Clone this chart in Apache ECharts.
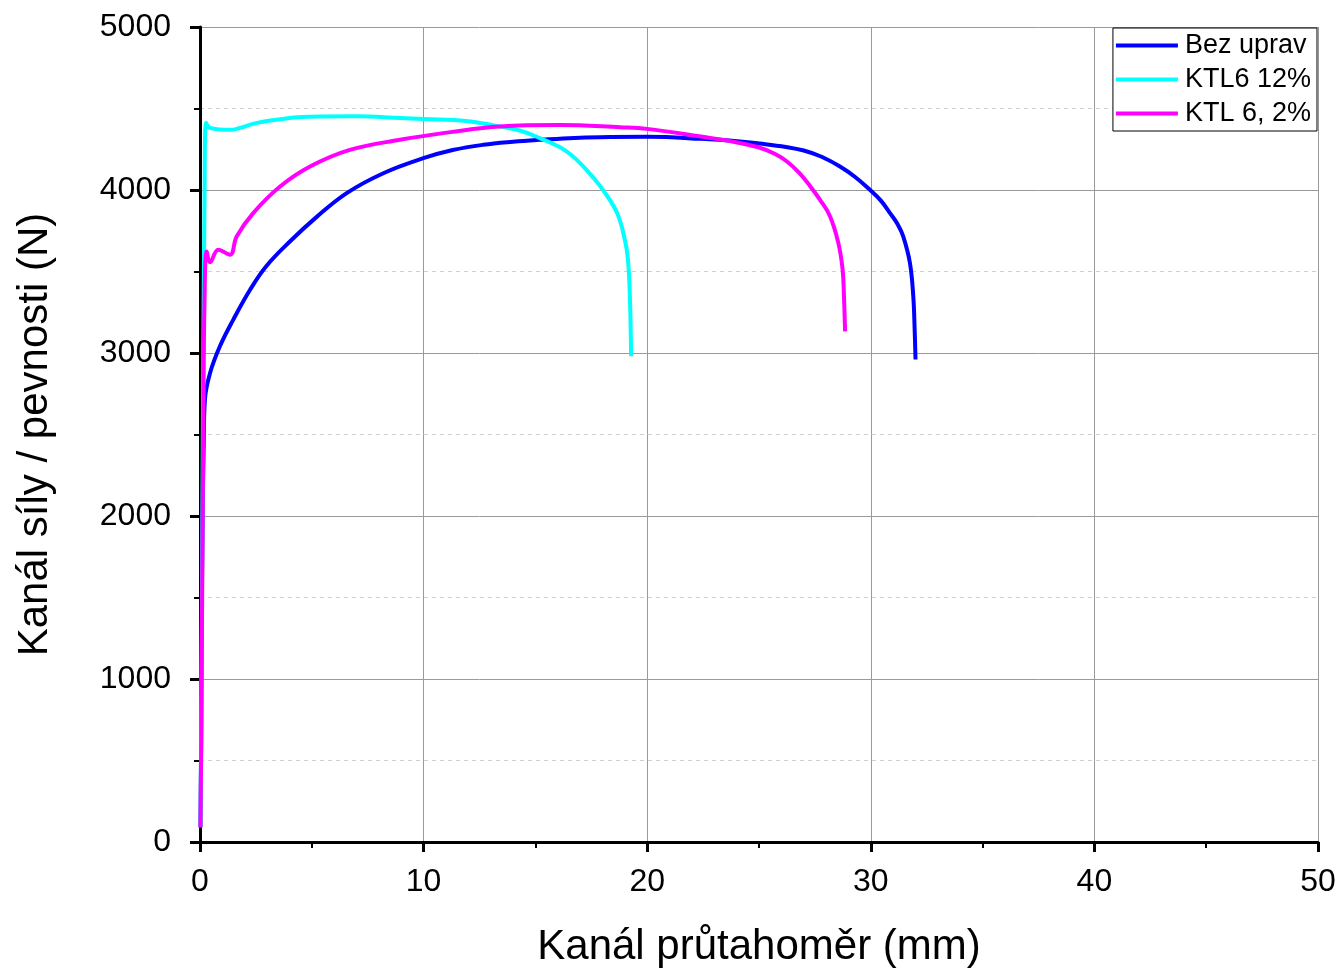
<!DOCTYPE html>
<html>
<head>
<meta charset="utf-8">
<script src="https://cdn.jsdelivr.net/npm/echarts@6/dist/echarts.min.js"></script>
<style>html,body{margin:0;padding:0;background:#fff}#c{width:1342px;height:973px}</style>
</head>
<body>
<div id="c"></div>
<script>
const seriesNames = ['Bez uprav', 'KTL6 12%', 'KTL 6, 2%'];
const seriesColors = ['#0000ff', '#00ffff', '#ff00ff'];

const bezX = [0.02,0.05,0.08,0.12,0.16,0.22,0.45,0.89,1.49,2.24,2.98,4.02,5.22,6.56,8.2,9.99,11.3,12.66,14.0,15.2,16.5,17.9,20.0,22.4,24.15,25.04,26.2,27.0,27.8,28.62,29.3,29.96,30.45,30.86,31.2,31.45,31.75,31.9,31.96,32.0];
const bezY = [90,600,1400,2000,2400,2714,2877,3041,3205,3388,3535,3684,3835,3981,4103,4195,4245,4277,4296,4308,4318,4324,4326,4314,4298,4285,4264,4242,4204,4144,4080,4001,3935,3858,3790,3715,3552,3347,3150,2960];

const ktl12X = [0.02,0.06,0.1,0.15,0.2,0.27,0.45,1.34,1.79,2.55,4.02,4.92,7.0,8.94,10.0,11.9,13.28,14.3,15.2,16.1,16.6,17.0,17.5,18.02,18.65,19.0,19.14,19.23,19.28];
const ktl12Y = [90,800,1800,3000,3900,4412,4381,4369,4381,4412,4442,4449,4452,4442,4436,4424,4393,4365,4318,4262,4215,4165,4090,4001,3860,3695,3572,3327,2980];

const ktl2X = [0.02,0.06,0.1,0.15,0.2,0.3,0.45,0.82,1.34,1.64,2.38,3.58,4.92,6.7,8.94,11.2,13.4,16.1,18.8,20.0,22.4,23.7,25.04,25.7,26.25,26.8,27.28,27.73,28.18,28.55,28.74,28.8,28.85];
const ktl2Y = [90,700,1600,2600,3300,3623,3556,3634,3603,3715,3858,4021,4144,4246,4308,4355,4390,4399,4385,4375,4328,4300,4259,4222,4175,4105,4025,3940,3838,3674,3511,3347,3133];

const xTicks = {min: 0, max: 50, interval: 10};
const yTicks = {min: 0, max: 5000, interval: 1000};

function zip(xs, ys) { return xs.map((x, i) => [x, ys[i]]); }
const allData = [zip(bezX, bezY), zip(ktl12X, ktl12Y), zip(ktl2X, ktl2Y)];

const font = 'Liberation Sans, Arial, sans-serif';
const chart = echarts.init(document.getElementById('c'), null, {renderer: 'canvas'});

function axisCommon() {
  return {
    axisLine: {show: true, onZero: false, lineStyle: {color: '#000', width: 3}},
    axisTick: {show: true, inside: false, length: 10, lineStyle: {color: '#000', width: 3}},
    minorTick: {show: true, splitNumber: 2, length: 6, lineStyle: {color: '#000', width: 2}},
    splitLine: {show: true, lineStyle: {color: '#9a9a9a', width: 1}},
    axisLabel: {color: '#000', fontSize: 32, fontFamily: font, formatter: v => String(v)},
    nameTextStyle: {color: '#000', fontSize: 42, fontFamily: font}
  };
}

const xAxis = Object.assign(axisCommon(), {
  type: 'value', min: xTicks.min, max: xTicks.max, interval: xTicks.interval,
  name: 'Kanál průtahoměr (mm)', nameLocation: 'middle', nameGap: 84
});
xAxis.axisLabel.margin = 24;
xAxis.minorSplitLine = {show: false};

const yAxis = Object.assign(axisCommon(), {
  type: 'value', min: yTicks.min, max: yTicks.max, interval: yTicks.interval,
  name: 'Kanál síly / pevnosti (N)', nameLocation: 'middle', nameGap: 144
});
yAxis.axisLabel.margin = 29;
yAxis.minorSplitLine = {show: true, lineStyle: {color: '#cfcfcf', width: 1, type: [4, 4]}};

chart.setOption({
  animation: false,
  backgroundColor: '#fff',
  grid: {left: 200, right: 24, top: 27, bottom: 130, containLabel: false},
  xAxis: xAxis,
  yAxis: yAxis,
  legend: {
    data: seriesNames,
    orient: 'vertical',
    right: 25, top: 28,
    backgroundColor: '#fff',
    borderColor: '#000', borderWidth: 1, borderRadius: 0,
    padding: [4, 6, 4, 3],
    itemWidth: 62, itemHeight: 4, itemGap: 7,
    icon: 'rect',
    textStyle: {color: '#000', fontSize: 27, fontFamily: font, lineHeight: 27, padding: [0, 0, 0, 2]}
  },
  series: seriesNames.map((n, i) => ({
    name: n, type: 'line', data: allData[i], showSymbol: false, symbol: 'none',
    smooth: 0.4, smoothMonotone: 'none',
    lineStyle: {color: seriesColors[i], width: 4},
    itemStyle: {color: seriesColors[i]},
    z: 2 + i
  }))
});
</script>
</body>
</html>
